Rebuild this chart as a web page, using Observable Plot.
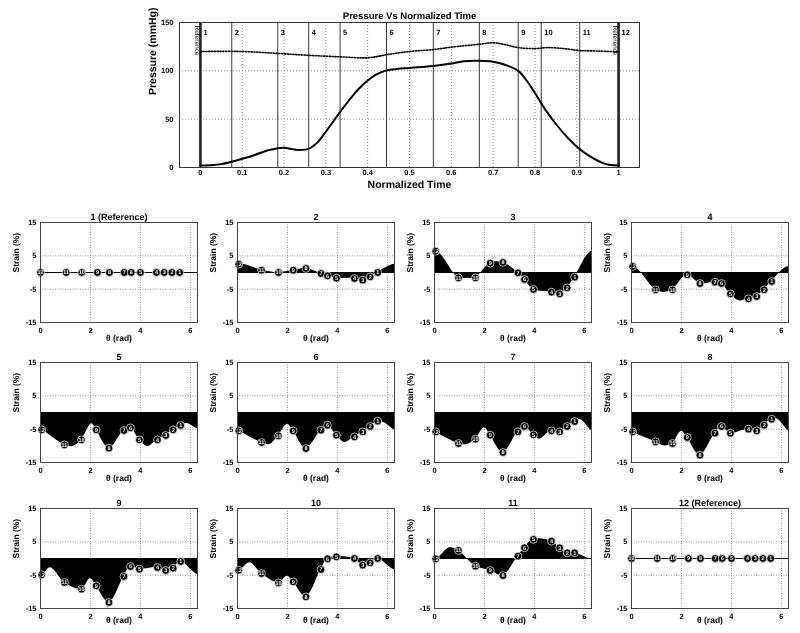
<!DOCTYPE html>
<html><head><meta charset="utf-8">
<script src="https://cdn.jsdelivr.net/npm/d3@7"></script>
<script src="https://cdn.jsdelivr.net/npm/@observablehq/plot@0.6"></script>
<style>
body{margin:0;background:#fff;}
#wrap{position:relative;width:800px;height:633px;overflow:hidden;background:#fff;}
#wrap svg{position:absolute;overflow:visible;will-change:transform;}
#wrap svg text{text-rendering:geometricPrecision;}
</style></head><body><div id="wrap"></div>
<script>
// ---------- Top chart data ----------
const timeT = [0, 0.03, 0.05, 0.075, 0.1, 0.13, 0.16, 0.185, 0.2, 0.22, 0.24, 0.26, 0.28, 0.3, 0.32, 0.335, 0.36, 0.38, 0.4, 0.42, 0.445, 0.47, 0.5, 0.53, 0.557, 0.6, 0.63, 0.667, 0.7, 0.73, 0.76, 0.78, 0.8, 0.82, 0.85, 0.88, 0.907, 0.93, 0.96, 0.98, 1.0];
const pressure = [2, 2.5, 3.5, 6, 9, 13, 17.5, 20, 20.5, 19, 18, 19.5, 26, 37, 49, 58, 72, 82, 90, 96, 100.5, 102, 103, 104, 105, 107.5, 110, 110.5, 109.5, 106, 100, 90, 77, 63, 45, 30, 19, 12, 5, 2.5, 2];
const refT = [0, 0.1, 0.185, 0.26, 0.335, 0.4, 0.45, 0.5, 0.557, 0.6, 0.667, 0.7, 0.73, 0.76, 0.8, 0.83, 0.87, 0.907, 0.95, 1.0];
const refP = [120, 120, 118, 116, 114.5, 113.5, 117, 120, 122, 124.5, 127.5, 129, 127, 124, 123, 124, 123, 121, 120.5, 119.5];
const frameTimes = [0, 0.075, 0.185, 0.259, 0.334, 0.445, 0.557, 0.667, 0.76, 0.815, 0.907, 1];
const frameLabels = ["1","2","3","4","5","6","7","8","9","10","11","12"];
const timeTicks = [0,0.1,0.2,0.3,0.4,0.5,0.6,0.7,0.8,0.9,1];
const pressureTicks = [0, 50, 100, 150];

// ---------- Strain panels data ----------
const segments = [12,11,10,9,8,7,6,5,4,3,2,1];
const thetaRef = [0, 1.03, 1.65, 2.28, 2.76, 3.35, 3.63, 4.0, 4.64, 4.95, 5.26, 5.57];
const theta    = [0.05, 0.96, 1.64, 2.23, 2.74, 3.34, 3.6, 3.96, 4.68, 5.01, 5.31, 5.61];
const s1  = [0,0,0,0,0,0,0,0,0,0,0,0];
const s2  = [2.5, 0.7, 0, 0.7, 1.2, -0.3, -1, -1.7, -1.8, -2.3, -1.3, 0];
const s3  = [6.4, -1.6, -1.6, 2.8, 3, -0.1, -2.1, -5.1, -5.9, -6.4, -4.6, -1.4];
const s4  = [1.8, -5.2, -5.2, -0.7, -3.3, -2.9, -3.3, -6.4, -7.9, -7.2, -5.2, -2.7];
const s5  = [-5.2, -9.7, -8.2, -5.2, -10.7, -5.4, -4.6, -8.2, -8.2, -6.9, -5.2, -3.9];
const s6  = [-5.5, -9, -7, -5.5, -10.8, -5.3, -3.8, -6.8, -7.3, -5.8, -4.2, -2.6];
const s7  = [-5.8, -9.3, -8, -6.8, -12, -5.8, -4.2, -6.7, -5.5, -5.8, -4.2, -2.7];
const s8  = [-5.8, -8.8, -9.3, -7.5, -12.8, -6.2, -4.2, -6.2, -5, -5.5, -3.8, -2];
const s9  = [-4.9, -7.2, -9.2, -8.2, -13.2, -5.4, -2.4, -3.2, -2.7, -3.6, -2.9, -0.9];
const s10 = [-3.5, -4.5, -7.3, -7, -11.5, -3.3, -0.1, 0.5, 0, -2, -1.3, 0];
const s11 = [-0.1, 2.4, -2.3, -3.6, -5.1, 0.7, 3.2, 5.7, 5.2, 3.2, 1.7, 1.7];
const s12 = [0,0,0,0,0,0,0,0,0,0,0,0];
// extra curve points read between the markers [theta, strain]
const e1 = [], e2 = [], e3 = [[1.3, -1.7]];
const e4 = [[1.3, -6], [4.3, -8.5]];
const e5 = [[1.3, -10.2], [2.05, -3.4], [4.3, -10.2], [5.85, -3.3]];
const e6 = [[1.3, -9.6], [2.0, -3.5], [4.3, -9], [5.85, -3]];
const e7 = [[1.3, -9.6], [2.0, -4.6], [4.2, -8], [5.85, -2.2]];
const e8 = [[1.3, -10], [2.0, -5.6], [5.85, -2]];
const e9 = [[0.4, -2.8], [2.0, -6]];
const e10 = [[0.5, -1.3], [2.0, -5.3]];
const e11 = [[0.6, 3.2]];
const e12 = [];
const titles = ["1 (Reference)","2","3","4","5","6","7","8","9","10","11","12 (Reference)"];
const strainTicks = [-15, -5, 5, 15];
const thetaTicks = [0, 2, 4, 6];

const strains = [s1,s2,s3,s4,s5,s6,s7,s8,s9,s10,s11,s12];
const extras = [e1,e2,e3,e4,e5,e6,e7,e8,e9,e10,e11,e12];

const FONT = {fontFamily: '"Liberation Sans", Arial, sans-serif', fontWeight: "bold", fontSize: "7.5px", background: "transparent", color: "#000", overflow: "visible"};
const wrap = document.getElementById("wrap");
function place(svg, left, top) {
  svg.style.left = left + "px";
  svg.style.top = top + "px";
  wrap.appendChild(svg);
}

// ---------- Top chart ----------
const pData = timeT.map((t, i) => ({t, p: pressure[i]}));
const rData = refT.map((t, i) => ({t, p: refP[i]}));
const grid = {stroke: "#666", strokeDasharray: "1,2", strokeWidth: 0.8};
const topChart = Plot.plot({
  width: 800, height: 195,
  marginLeft: 179, marginRight: 161, marginTop: 22, marginBottom: 28,
  style: FONT,
  x: {domain: [-0.05, 1.05], ticks: timeTicks, tickFormat: d => String(+d.toFixed(1)), tickSize: 0, tickPadding: 2, label: null},
  y: {domain: [0, 150], ticks: pressureTicks, tickSize: 0, tickPadding: 6, label: null},
  marks: [
    Plot.ruleX(timeTicks.filter(t => t > 0 && t < 1), {x: d => d, ...grid}),
    Plot.ruleY([50, 100], {y: d => d, ...grid}),
    Plot.ruleX(frameTimes, {x: d => d, stroke: "#222", strokeWidth: (d, i) => (i === 0 || i === 11) ? 2.6 : 0.9}),
    Plot.line(rData, {x: "t", y: "p", curve: "catmull-rom", stroke: "#000", strokeWidth: 1.6, strokeDasharray: "1.2,1.6"}),
    Plot.line(pData, {x: "t", y: "p", curve: "catmull-rom", stroke: "#000", strokeWidth: 2}),
    Plot.text(frameTimes, {x: d => d, y: 150, text: (d, i) => frameLabels[i], dx: 3, dy: 10, textAnchor: "start", fontSize: 7.5}),
    Plot.text([0, 1], {x: d => d, y: 150, text: () => "Reference", rotate: 90, textAnchor: "start", dx: -3, dy: 3, fontSize: 6.5, fontWeight: "normal"}),
    Plot.frame({stroke: "#333"}),
    Plot.text(["Pressure Vs Normalized Time"], {text: d => d, frameAnchor: "top", dy: -10, fontSize: 9.5}),
    Plot.text(["Normalized Time"], {text: d => d, frameAnchor: "bottom", dy: 20, fontSize: 10.5}),
    Plot.text(["Pressure (mmHg)"], {text: d => d, frameAnchor: "left", rotate: -90, dx: -27, fontSize: 10.5})
  ]
});
place(topChart, 0, 0);

// ---------- Strain panels ----------
const TAU = 2 * Math.PI;
const rowTops = [200, 340, 486];
const labelDy = [18, 18, 14];
const colLefts = [0, 197, 394, 591];
for (let k = 0; k < 12; k++) {
  const row = Math.floor(k / 4);
  const th = (k === 0 || k === 11) ? thetaRef : theta;
  const vals = strains[k];
  const pts = th.map((t, i) => ({t, v: vals[i], seg: segments[i]}));
  const ctrl = pts.map(p => [p.t, p.v]).concat(extras[k]).sort((a, b) => a[0] - b[0]);
  const curveData = [
    ...ctrl.slice(-3).map(([t, v]) => [t - TAU, v]),
    ...ctrl,
    ...ctrl.slice(0, 3).map(([t, v]) => [t + TAU, v])
  ];
  const chart = Plot.plot({
    width: 197, height: 150,
    marginLeft: 40, marginRight: 0, marginTop: 22, marginBottom: 28,
    style: {...FONT, fontSize: "7.5px"},
    x: {domain: [0, TAU], ticks: thetaTicks, tickFormat: d => String(d), tickSize: 0, tickPadding: 5, label: null},
    y: {domain: [-15, 15], ticks: strainTicks, tickFormat: d => String(d), tickSize: 0, tickPadding: 4, label: null},
    marks: [
      Plot.ruleX([2, 4, 6], {x: d => d, stroke: "#777", strokeDasharray: "1,1.5", strokeWidth: 0.8}),
      Plot.ruleY([5, -5], {y: d => d, stroke: "#777", strokeDasharray: "1,1.5", strokeWidth: 0.8}),
      Plot.areaY(curveData, {x: d => d[0], y: d => d[1], curve: "catmull-rom", fill: "#000", clip: true}),
      Plot.ruleY([0], {y: d => d, stroke: "#000", strokeWidth: 1}),
      Plot.dot(pts, {x: "t", y: "v", r: 3.9, fill: "#000", stroke: "#fff", strokeWidth: 0.7}),
      Plot.text(pts, {x: "t", y: "v", text: d => String(d.seg), fill: "#fff", fontSize: 5.5}),
      Plot.frame({stroke: "#444"}),
      Plot.text([titles[k]], {text: d => d, frameAnchor: "top", dy: -9, fontSize: 9}),
      Plot.text(["Strain (%)"], {text: d => d, frameAnchor: "left", rotate: -90, dx: -24, fontSize: 8.5}),
      Plot.text(["θ (rad)"], {text: d => d, frameAnchor: "bottom", dy: labelDy[row], fontSize: 8.5})
    ]
  });
  place(chart, colLefts[k % 4], rowTops[row]);
}
</script></body></html>
